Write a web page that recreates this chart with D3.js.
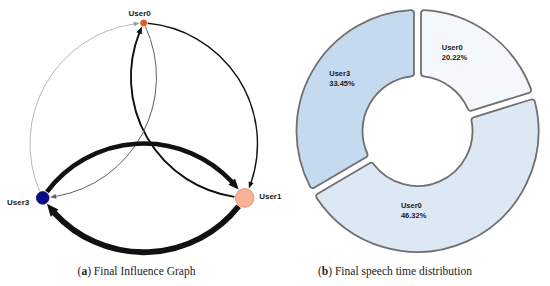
<!DOCTYPE html>
<html>
<meta charset="utf-8">
<script src="https://d3js.org/d3.v7.min.js"></script>
<style>
    body { margin: 0; background: #fff; }
    .node-label, .slice-label { font-family: "Liberation Sans", Arial, sans-serif; font-weight: bold; fill: #1a1a1a; }
    .caption { font-family: "Liberation Serif", "Times New Roman", serif; font-size: 11.5px; fill: #222; }
</style>
<body>
    <svg width="550" height="286"></svg>
    <script>
        // influence graph
        const nodeNames = ["User0", "User1", "User3"];
        const nodeSize = [3, 9.3, 6.3];
        const nodeFill = ["#f15a24", "#f8b096", "#0b0b8a"];
        const nodeStroke = ["#d8461a", "#e0896c", "#060660"];

        const edgeSource = ["User0", "User1", "User3", "User0", "User3", "User1"];
        const edgeTarget = ["User1", "User0", "User0", "User3", "User1", "User3"];
        const edgeWeight = [1.4, 1.9, 0.7, 1.0, 4.6, 5.8];

        // speech time
        const sliceLabels = ["User0", "User0", "User3"];
        const sliceValues = [20.22, 46.32, 33.45];
        const sliceColors = ["#f4f8fd", "#dde8f5", "#c6daef"];

        const captions = [["a", " Final Influence Graph"], ["b", " Final speech time distribution"]];

        let svg = d3.select("svg");

        //---- left: circular graph ----
        const g = { cx: 143.7, cy: 139.6, r: 116.6, arcR: 121 };
        const angle = d3.scaleLinear().domain([0, nodeNames.length]).range([-Math.PI / 2, Math.PI * 1.5]);

        let nodes = nodeNames.map((name, i) => ({
            name: name,
            size: nodeSize[i],
            x: g.cx + g.r * Math.cos(angle(i)),
            y: g.cy + g.r * Math.sin(angle(i)),
            fill: nodeFill[i],
            stroke: nodeStroke[i]
        }));
        const byName = new Map(nodes.map(n => [n.name, n]));

        const edgeColor = d3.scaleLinear().domain([0.7, 1.4]).range(["#9a9a9a", "#111"]).clamp(true);

        let graph = svg.append("g").attr("class", "graph");

        edgeSource.forEach((s, i) => {
            const a = byName.get(s), b = byName.get(edgeTarget[i]);
            const w = edgeWeight[i];
            const dx = b.x - a.x, dy = b.y - a.y, d = Math.hypot(dx, dy);
            const h = Math.sqrt(g.arcR * g.arcR - d * d / 4);
            // arc centre sits to the right of travel, so the arc runs clockwise
            const cx = (a.x + b.x) / 2 - h * dy / d, cy = (a.y + b.y) / 2 + h * dx / d;
            let a0 = Math.atan2(a.y - cy, a.x - cx);
            let a1 = Math.atan2(b.y - cy, b.x - cx);
            if (a1 < a0) a1 += 2 * Math.PI;

            const len = 5 + 1.2 * w, hw = 1.8 + 0.6 * w;
            const start = a0 + (a.size + 1) / g.arcR;
            const tip = a1 - (b.size + 1) / g.arcR;
            const base = tip - len / g.arcR;

            const p = d3.path();
            p.arc(cx, cy, g.arcR, start, base + 0.5 / g.arcR, false);
            graph.append("path")
                .attr("d", p.toString())
                .attr("fill", "none")
                .attr("stroke", edgeColor(w))
                .attr("stroke-width", w);

            const tx = cx + g.arcR * Math.cos(tip), ty = cy + g.arcR * Math.sin(tip);
            const bx = cx + g.arcR * Math.cos(base), by = cy + g.arcR * Math.sin(base);
            const ux = Math.cos(base), uy = Math.sin(base);
            graph.append("path")
                .attr("d", `M${tx},${ty}L${bx + ux * hw},${by + uy * hw}L${bx - ux * hw},${by - uy * hw}Z`)
                .attr("fill", edgeColor(w));
        });

        graph.selectAll("circle.node")
            .data(nodes)
            .enter().append("circle")
            .attr("class", "node")
            .attr("cx", d => d.x)
            .attr("cy", d => d.y)
            .attr("r", d => d.size)
            .style("fill", d => d.fill)
            .style("stroke", d => d.stroke)
            .style("stroke-width", 0.8);

        // label sides: above / right / left
        const labelSide = { User0: [-4, -7, "middle"], User1: [14.5, 1.5, "start"], User3: [-13.5, 7.5, "end"] };
        graph.selectAll("text.node-label")
            .data(nodes)
            .enter().append("text")
            .attr("class", "node-label")
            .attr("x", d => d.x + labelSide[d.name][0])
            .attr("y", d => d.y + labelSide[d.name][1])
            .attr("text-anchor", d => labelSide[d.name][2])
            .style("font-size", "8px")
            .text(d => d.name);

        //---- right: donut ----
        const donut = { cx: 417.5, cy: 131, outer: 121, inner: 55 };
        const pie = d3.pie().sort(null).value(d => d);
        const arc = d3.arc()
            .innerRadius(donut.inner)
            .outerRadius(donut.outer)
            .cornerRadius(3)
            .padAngle(7 / Math.hypot(donut.inner, donut.outer));

        let ring = svg.append("g").attr("transform", `translate(${donut.cx},${donut.cy})`);
        const slices = pie(sliceValues);

        ring.selectAll("path.slice")
            .data(slices)
            .enter().append("path")
            .attr("class", "slice")
            .attr("d", arc)
            .style("fill", (d, i) => sliceColors[i])
            .style("stroke", "#6f6f6f")
            .style("stroke-width", 1.8);

        // label block centre: [degrees clockwise from top, radius]
        const labelPolar = [[25, 87], [183, 79], [305, 92.5]];
        slices.forEach((s, i) => {
            const a = labelPolar[i][0] * Math.PI / 180, r = labelPolar[i][1];
            const x = r * Math.sin(a) - 12.5, y = -r * Math.cos(a);
            const t = ring.append("text")
                .attr("class", "slice-label")
                .style("font-size", "7.5px");
            t.append("tspan").attr("x", x).attr("y", y - 2.3).text(sliceLabels[i]);
            t.append("tspan").attr("x", x).attr("y", y + 8).text(d3.format(".2f")(s.value) + "%");
        });

        //---- captions ----
        const captionX = [136.5, 395];
        captions.forEach((c, i) => {
            const t = svg.append("text")
                .attr("class", "caption")
                .attr("x", captionX[i])
                .attr("y", 275)
                .attr("text-anchor", "middle");
            t.append("tspan").text("(");
            t.append("tspan").style("font-weight", "bold").text(c[0]);
            t.append("tspan").text(")" + c[1]);
        });
    </script>
</body>
</html>
